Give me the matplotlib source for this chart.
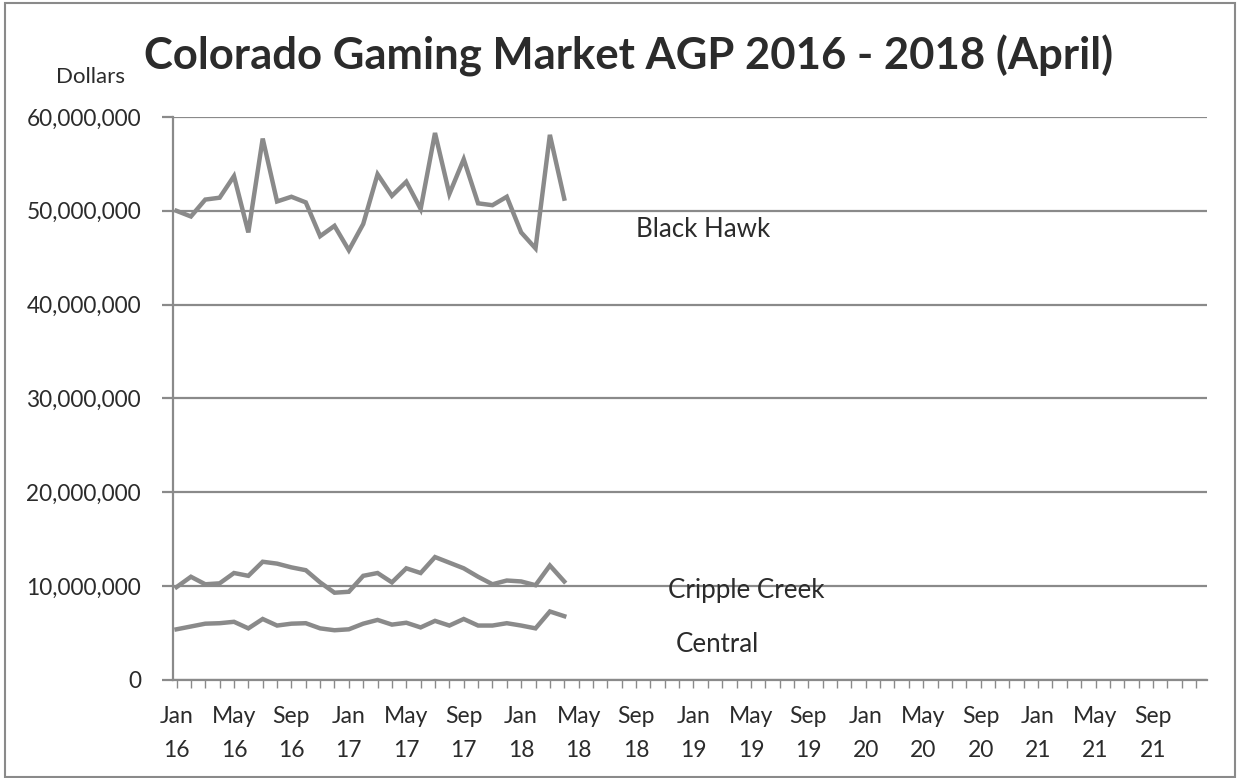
import numpy as np
import matplotlib
matplotlib.use('Agg')
import matplotlib.pyplot as plt
from matplotlib.ticker import FuncFormatter
from matplotlib.patches import Rectangle

plt.rcParams['font.family'] = ['Lato', 'DejaVu Sans']

# monthly AGP, Jan 2016 - Apr 2018 (millions of dollars)
black_hawk = [50.0, 49.4, 51.2, 51.4, 53.7, 47.7, 57.7, 51.0, 51.5, 50.9, 47.3, 48.4, 45.8, 48.6,
              53.9, 51.6, 53.1, 50.2, 58.3, 51.8, 55.5, 50.8, 50.6, 51.5, 47.7, 46.0, 58.1, 51.3]
cripple_creek = [9.9, 11.0, 10.2, 10.3, 11.4, 11.1, 12.6, 12.4, 12.0, 11.7, 10.4, 9.3, 9.4, 11.1,
                 11.4, 10.4, 11.9, 11.4, 13.1, 12.5, 11.9, 11.0, 10.2, 10.6, 10.5, 10.1, 12.2, 10.5]
central = [5.4, 5.7, 6.0, 6.05, 6.2, 5.5, 6.5, 5.8, 6.0, 6.05, 5.5, 5.3, 5.4, 6.0,
           6.4, 5.9, 6.1, 5.6, 6.3, 5.8, 6.5, 5.8, 5.8, 6.05, 5.8, 5.5, 7.3, 6.8]
month_names = ['Jan', 'May', 'Sep']
years = ['16', '17', '18', '19', '20', '21']
n_months = 72

grey = '#8a8a8a'
text_col = '#2b2b2b'

fig = plt.figure(figsize=(12.39, 7.78), dpi=100)
ax = fig.add_axes([0.1396, 0.126, 0.974 - 0.1396, 0.8496 - 0.126])

months = np.arange(len(black_hawk))
for series in (black_hawk, cripple_creek, central):
    ax.plot(months, np.array(series) * 1e6, color=grey, lw=3.2, solid_joinstyle='miter', zorder=3)

ax.set_ylim(0, 60e6)
ax.set_xlim(-0.25, n_months - 0.25)
ax.set_yticks(np.arange(0, 60e6 + 1, 10e6))
ax.yaxis.set_major_formatter(FuncFormatter(lambda v, p: f'{v:,.0f}'))
ax.grid(axis='y', color=grey, lw=1.6)
ax.set_axisbelow(True)

tick_pos = np.arange(0, n_months, 4)
tick_lab = [f'{month_names[(i // 4) % 3]}\n{years[i // 12]}' for i in tick_pos]
ax.set_xticks(tick_pos)
ax.set_xticklabels(tick_lab, linespacing=1.75)
ax.set_xticks(np.arange(0, n_months), minor=True)

for s in ('top', 'right'):
    ax.spines[s].set_visible(False)
for s in ('left', 'bottom'):
    ax.spines[s].set_color(grey)
    ax.spines[s].set_linewidth(1.6)

ax.tick_params(axis='y', length=8, color=grey, width=1.6, labelsize=16.3, labelcolor=text_col, pad=15)
ax.tick_params(axis='x', which='both', length=6, color=grey, width=1.0, labelsize=16.5,
               labelcolor=text_col, pad=13)

ax.text(32.0, 47.25e6, 'Black Hawk', fontsize=18.6, color=text_col, va='baseline')
ax.text(34.2, 8.74e6, 'Cripple Creek', fontsize=18.6, color=text_col, va='baseline')
ax.text(34.8, 2.98e6, 'Central', fontsize=18.6, color=text_col, va='baseline')

fig.text(0.5075, 0.911, 'Colorado Gaming Market AGP 2016 - 2018 (April)', ha='center', va='baseline',
         fontsize=31.4, fontweight='bold', color=text_col)
fig.text(0.1009, 0.893, 'Dollars', ha='right', va='baseline', fontsize=16, color=text_col)

fig.patches.append(Rectangle((0.004, 0.001), 0.993, 0.995, transform=fig.transFigure,
                             fill=False, edgecolor=grey, lw=1.5))

fig.savefig('out.png', dpi=100)
